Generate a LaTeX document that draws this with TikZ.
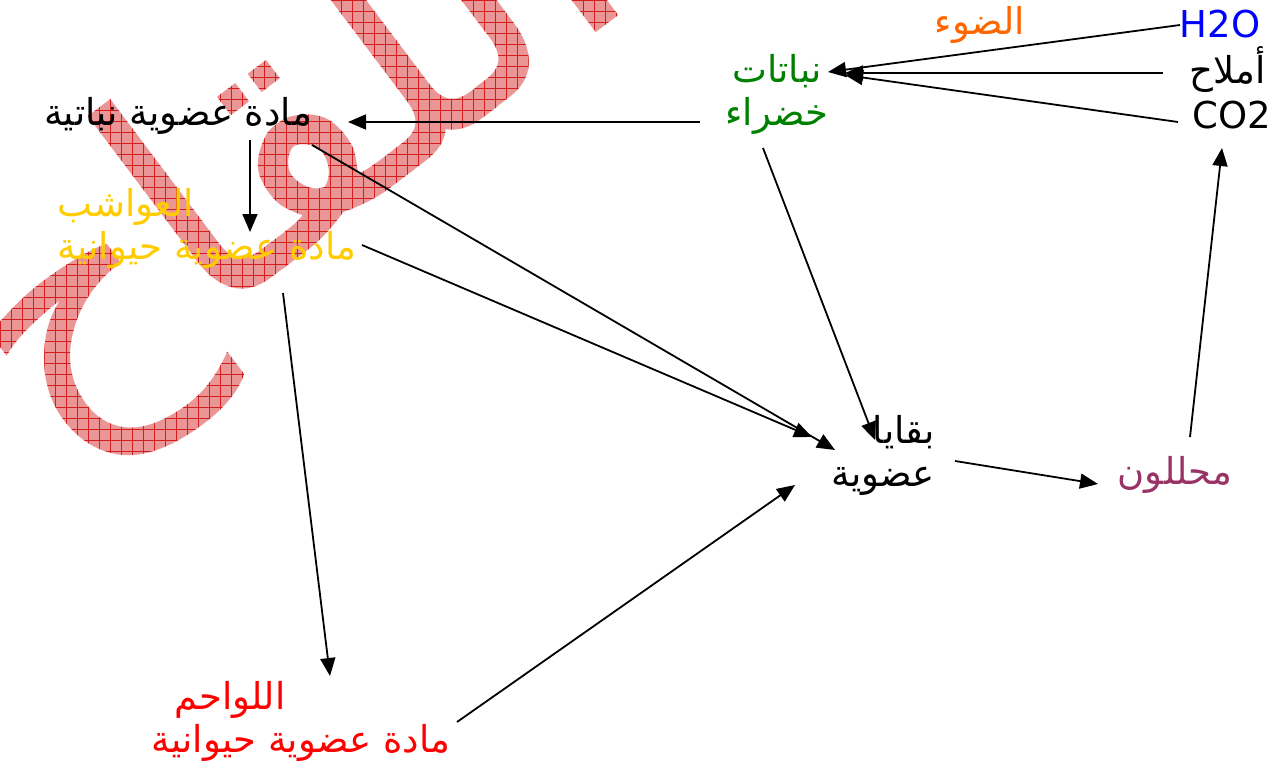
\documentclass[tikz,border=0pt]{standalone}
\usepackage{fontspec}
\usetikzlibrary{arrows.meta,calc,fadings}
\setmainfont{DejaVu Sans}
\newfontfamily\arfont[Script=Arabic]{DejaVu Sans}
\TeXXeTstate=1
\newcommand{\RR}[1]{\beginR #1\endR}
\definecolor{cgreen}{RGB}{0,128,0}
\definecolor{corange}{RGB}{255,102,0}
\definecolor{cblue}{RGB}{0,0,255}
\definecolor{cpurple}{RGB}{153,51,102}
\definecolor{cyellow}{RGB}{255,204,0}
\definecolor{cred}{RGB}{255,0,0}
\definecolor{wmark}{RGB}{234,150,150}
\definecolor{wgrid}{RGB}{210,30,30}
\tikzset{
  txt/.style={inner sep=0pt, font=\arfont\fontsize{37}{43}\selectfont},
  arr/.style={line width=1.8pt, -{Triangle[length=18pt,width=15pt]}},
  wm/.style={inner sep=0pt, font=\arfont\fontsize{315}{315}\selectfont},
  wmfill/.style={path fading=wmfade, fit fading=false, fading transform={shift={(295,158)}}}
}
\begin{tikzfadingfrompicture}[name=wmfade]
\node[wm, text=transparent!0, rotate=37] at (0,0) {\RR{اللقاح}};
\end{tikzfadingfrompicture}
\begin{document}
\begin{tikzpicture}[x=1pt,y=-1pt]
\useasboundingbox (0,0) rectangle (1288,771);
% watermark (hatched letters)
\path[fill=wmark, wmfill] (-400,-500) rectangle (1000,800);
\draw[wgrid, line width=0.5pt, wmfill] (-400,-500) grid[step=11pt] (1000,800);
% nodes
\node[txt, text=corange] (light) at (980,25) {\RR{الضوء}};
\node[txt, text=cblue] (h2o) at (1220,24) {H2O};
\node[txt] (aml) at (1228,70) {\RR{أملاح}};
\node[txt] (co2) at (1232,115) {CO2};
\node[txt, text=cgreen, align=center] (nab) at (777,94) {\RR{نباتات}\\\RR{خضراء}};
\node[txt] (manab) at (178,116) {\RR{مادة عضوية نباتية}};
\node[txt, text=cyellow, align=left] (herb) at (207,228) {\RR{العواشب}\\\RR{مادة عضوية حيوانية}};
\node[txt, align=right] (baq) at (883,455) {\RR{بقايا}\\\RR{عضوية}};
\node[txt, text=cpurple] (muh) at (1175,475) {\RR{محللون}};
\node[txt, text=cred, align=left] (carn) at (301,721) {\hspace*{23pt}\RR{اللواحم}\\\RR{مادة عضوية حيوانية}};
% connectors
\draw[arr] ($(h2o)+(-40,1)$) -- ($(nab)+(51,-22)$);
\draw[arr] ($(aml)+(-65,3)$) -- ($(nab)+(68,-21)$);
\draw[arr] ($(co2)+(-54,7)$) -- ($(nab)+(68,-19)$);
\draw[arr] ($(nab)+(-77,28)$) -- ($(manab)+(170,6)$);
\draw[arr] ($(manab)+(72,24)$) -- ($(herb)+(43,4)$);
\draw[arr] ($(manab)+(134,29)$) -- ($(baq)+(-48,-5)$);
\draw[arr] ($(herb)+(155,17)$) -- ($(baq)+(-71,-18)$);
\draw[arr] ($(nab)+(-14,54)$) -- ($(baq)+(-8,-15)$);
\draw[arr] ($(herb)+(76,65)$) -- ($(carn)+(29,-45)$);
\draw[arr] ($(carn)+(156,1)$) -- ($(baq)+(-88,30)$);
\draw[arr] ($(baq)+(72,6)$) -- ($(muh)+(-77,9)$);
\draw[arr] ($(muh)+(15,-38)$) -- ($(co2)+(-10,33)$);
\end{tikzpicture}
\end{document}
